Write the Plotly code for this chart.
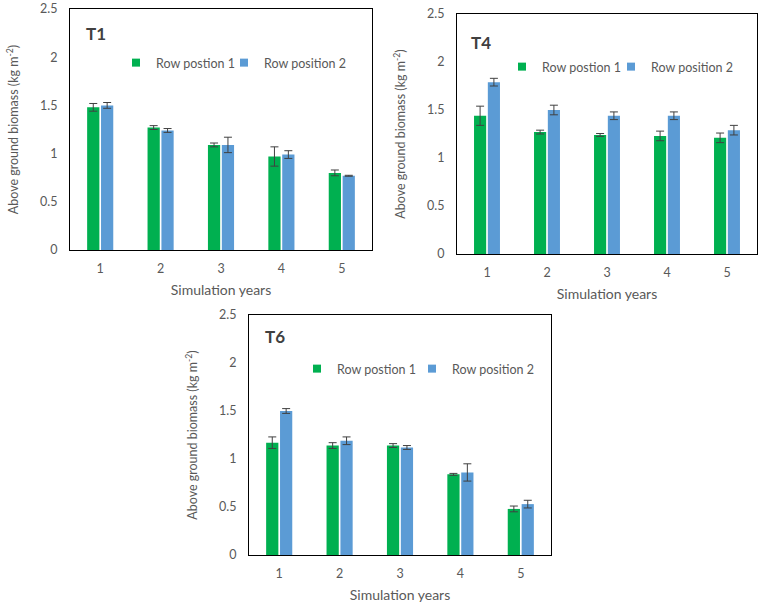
import plotly.graph_objects as go

years = [1, 2, 3, 4, 5]
tick_text = ["1", "2", "3", "4", "5"]
series_names = ["Row postion 1", "Row position 2"]

t1_row1 = [1.48, 1.27, 1.09, 0.97, 0.80]
t1_row1_err = [0.04, 0.02, 0.02, 0.10, 0.03]
t1_row2 = [1.50, 1.24, 1.09, 0.99, 0.77]
t1_row2_err = [0.03, 0.02, 0.08, 0.04, 0.005]

t4_row1 = [1.44, 1.27, 1.24, 1.23, 1.21]
t4_row1_err = [0.10, 0.02, 0.015, 0.05, 0.05]
t4_row2 = [1.79, 1.50, 1.44, 1.44, 1.29]
t4_row2_err = [0.04, 0.05, 0.04, 0.04, 0.05]

t6_row1 = [1.17, 1.14, 1.14, 0.84, 0.48]
t6_row1_err = [0.06, 0.03, 0.02, 0.01, 0.03]
t6_row2 = [1.50, 1.19, 1.12, 0.86, 0.53]
t6_row2_err = [0.025, 0.04, 0.02, 0.09, 0.04]

panels = [
    ("T1", t1_row1, t1_row1_err, t1_row2, t1_row2_err),
    ("T4", t4_row1, t4_row1_err, t4_row2, t4_row2_err),
    ("T6", t6_row1, t6_row1_err, t6_row2, t6_row2_err),
]

GREEN = "#00B050"
BLUE = "#5B9BD5"
GREY = "#595959"
FONT = "Lato, Open Sans, sans-serif"

W, H = 767, 605
# plot boxes in pixels: left, top, right, bottom
boxes = [(70, 9, 372, 250), (457, 14, 757, 254), (249, 315, 551, 555)]
# legend entry anchors (left x, centre y) for the two entries of each panel
legend_items = [[(116, 63), (224, 63)], [(502, 67), (611, 67)], [(297, 369), (412, 369)]]
label_pos = [(84, 33), (469, 42), (263, 336)]

fig = go.Figure()
annotations = []
leg_idx = 0
legends = {}
for i, (name, r1, e1, r2, e2) in enumerate(panels):
    sfx = "" if i == 0 else str(i + 1)
    xa, ya = "x" + sfx, "y" + sfx
    for j, (vals, errs, col, sname) in enumerate([(r1, e1, GREEN, series_names[0]),
                                                   (r2, e2, BLUE, series_names[1])]):
        fig.add_trace(go.Bar(
            x=years, y=vals, name=sname, marker=dict(color=col, line=dict(width=0)),
            error_y=dict(type="data", array=errs, visible=True, color="#404040", thickness=1, width=4),
            xaxis=xa, yaxis=ya, showlegend=False, offsetgroup=str(j),
        ))
        leg_idx += 1
        leg = "legend" if leg_idx == 1 else "legend" + str(leg_idx)
        fig.add_trace(go.Scatter(
            x=[None], y=[None], mode="markers", name=sname,
            marker=dict(symbol="square", size=8, color=col),
            xaxis=xa, yaxis=ya, legend=leg, showlegend=True, hoverinfo="skip",
        ))
        lx, ly = legend_items[i][j]
        legends[leg] = dict(x=lx / W, y=1 - ly / H, xanchor="left", yanchor="middle",
                            orientation="h", bgcolor="rgba(0,0,0,0)", itemwidth=30,
                            font=dict(family=FONT, size=12.5, color=GREY),
                            itemclick=False, itemdoubleclick=False)
    l, t, r, b = boxes[i]
    dom_x = [l / W, r / W]
    dom_y = [1 - b / H, 1 - t / H]
    fig.update_layout(**{
        "xaxis" + sfx: dict(domain=dom_x, anchor=ya, range=[0.5, 5.5], tickvals=years, ticktext=tick_text,
                            showline=True, mirror=True, linecolor="black", linewidth=1,
                            ticks="outside", ticklen=7, tickcolor="rgba(0,0,0,0)",
                            showgrid=False, zeroline=False, automargin=False,
                            tickfont=dict(family=FONT, size=12.5, color=GREY),
                            title=dict(text="Simulation years",
                                       font=dict(family=FONT, size=14, color=GREY), standoff=10)),
        "yaxis" + sfx: dict(domain=dom_y, anchor=xa, range=[0, 2.5], dtick=0.5, tickformat="~g",
                            showline=True, mirror=True, linecolor="black", linewidth=1,
                            ticks="outside", ticklen=9, tickcolor="rgba(0,0,0,0)",
                            showgrid=False, zeroline=False, automargin=False,
                            tickfont=dict(family=FONT, size=12.5, color=GREY),
                            title=dict(text="Above ground biomass (kg m<sup>-2</sup>)",
                                       font=dict(family=FONT, size=12.5, color=GREY), standoff=18)),
    })
    annotations.append(dict(text="<b>" + name + "</b>", xref="paper", yref="paper",
                            x=label_pos[i][0] / W, y=1 - label_pos[i][1] / H,
                            xanchor="left", yanchor="middle", showarrow=False,
                            font=dict(family=FONT, size=17, color="#404040")))

fig.update_layout(
    width=W, height=H, margin=dict(l=0, r=0, t=0, b=0),
    paper_bgcolor="white", plot_bgcolor="white",
    barmode="group", bargap=0.54, bargroupgap=0.12,
    annotations=annotations,
    **legends,
)

fig.write_html("out.html")
